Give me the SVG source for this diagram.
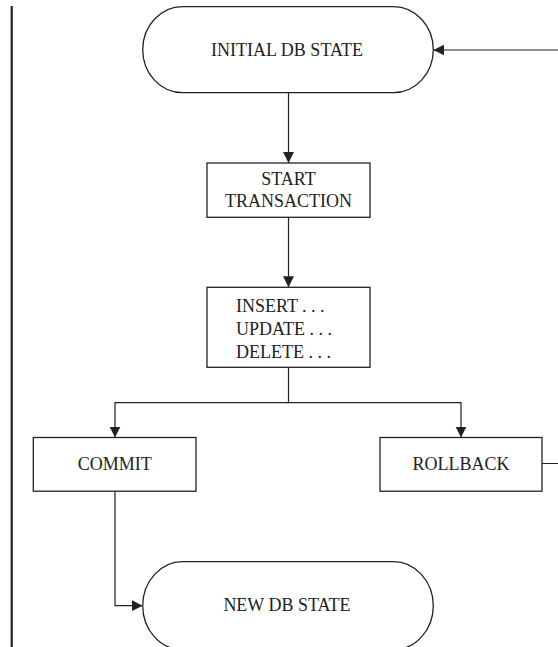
<svg xmlns="http://www.w3.org/2000/svg" width="558" height="647" viewBox="0 0 558 647">
<style>
.shape{fill:#fff;stroke:#222;stroke-width:1.3}
.conn{fill:none;stroke:#222;stroke-width:1.2}
.lbl{font-family:"Liberation Serif","Times New Roman",serif;font-size:18px;fill:#222}
.c{text-anchor:middle}
</style>
<defs>
<marker id="arr" markerUnits="userSpaceOnUse" markerWidth="12" markerHeight="12" refX="11" refY="5.5" orient="auto">
<path d="M0,0 L11,5.5 L0,11 z" fill="#222"/>
</marker>
</defs>
<rect x="0" y="0" width="558" height="647" fill="#fff"/>
<line x1="11.7" y1="6" x2="11.7" y2="647" stroke="#222" stroke-width="2.2"/>
<g id="connectors">
<path class="conn" d="M288.5 92.7 V163" marker-end="url(#arr)"/>
<path class="conn" d="M288.5 217.3 V287.3" marker-end="url(#arr)"/>
<path class="conn" d="M288.5 367.3 V402.7 H115 V437.5" marker-end="url(#arr)"/>
<path class="conn" d="M288.5 402.7 H461 V437.5" marker-end="url(#arr)"/>
<path class="conn" d="M115 491.2 V605.7 H142.7" marker-end="url(#arr)"/>
<path class="conn" d="M542 463.5 H559 V50 H433.3" marker-end="url(#arr)"/>
</g>
<g id="initial">
<rect class="shape" x="142.7" y="6.7" width="290.6" height="86" rx="40" ry="43"/>
<text class="lbl c" x="287" y="56">INITIAL DB STATE</text>
</g>
<g id="start">
<rect class="shape" x="207" y="163" width="163" height="54.3"/>
<text class="lbl c" x="288.5" y="185">START</text>
<text class="lbl c" x="288.5" y="207">TRANSACTION</text>
</g>
<g id="dml">
<rect class="shape" x="207" y="287.3" width="163" height="80"/>
<text class="lbl" x="236" y="312.3">INSERT . . .</text>
<text class="lbl" x="236" y="335">UPDATE . . .</text>
<text class="lbl" x="236" y="357.7">DELETE . . .</text>
</g>
<g id="commit">
<rect class="shape" x="33.3" y="437.5" width="162.7" height="53.7"/>
<text class="lbl c" x="114.7" y="470">COMMIT</text>
</g>
<g id="rollback">
<rect class="shape" x="380" y="437.5" width="162" height="53.7"/>
<text class="lbl c" x="461" y="470">ROLLBACK</text>
</g>
<g id="newstate">
<rect class="shape" x="142.7" y="561.7" width="290.6" height="88" rx="40" ry="44"/>
<text class="lbl c" x="287" y="611">NEW DB STATE</text>
</g>
</svg>
